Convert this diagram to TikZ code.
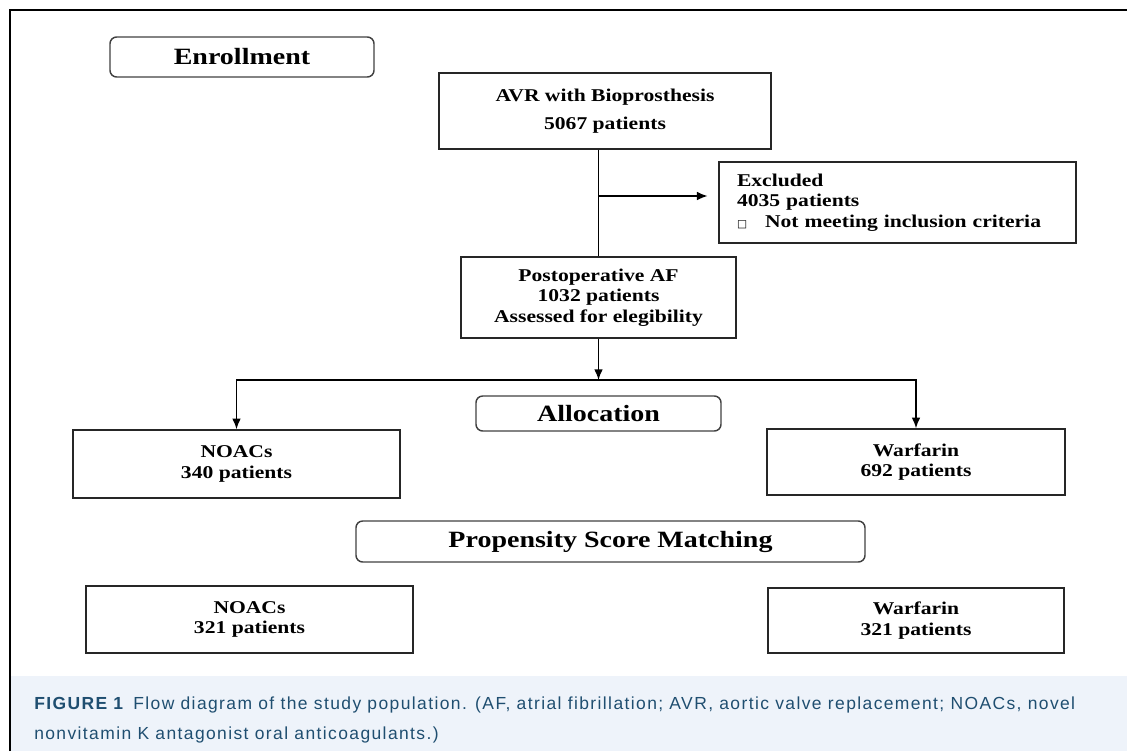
\documentclass[tikz,border=0pt]{standalone}
\usepackage{fontspec}
\usetikzlibrary{arrows.meta}
\newfontfamily\boxfont{Liberation Serif}[FakeStretch=1.2]
\newfontfamily\capfont{Liberation Sans}[LetterSpace=8]
\newfontfamily\symfont{DejaVu Sans}
\definecolor{capblue}{HTML}{1F4E70}
\definecolor{capback}{HTML}{EEF3FA}

\begin{document}
\begin{tikzpicture}[x=0.75pt, y=-0.75pt,
	box/.style={draw=black!85, line width=1.1pt, inner sep=0pt, align=center,
		font=\boxfont\bfseries\fontsize{13.5}{15.4}\selectfont},
	stage/.style={box, rounded corners=5pt, draw=black!75,
		font=\boxfont\bfseries\fontsize{17.5}{20}\selectfont},
	arr/.style={-{Latex[length=8pt,width=6.5pt]}, line width=1.1pt}]
			\useasboundingbox (0,0) rectangle (1127,751);
			\fill[capback] (10,676) rectangle (1127,751);
			\draw[line width=1.5pt] (10,751)--(10,10)--(1127,10);
			% stages
			\node[stage, minimum width=198pt, minimum height=30pt] (enroll) at (242,57) {Enrollment};
			\node[stage, minimum width=183.75pt, minimum height=26.25pt] (allocation) at (598.5,413.5) {Allocation};
			\node[stage, minimum width=381.75pt, minimum height=30.75pt] (psm) at (610.5,541.5) {Propensity Score Matching};
			% boxes
			\node[box, minimum width=249pt, minimum height=57pt] (avr) at (605,111) {AVR with Bioprosthesis\\[6pt]5067 patients};
			\node[box, text width=240.75pt, inner xsep=13.5pt, minimum height=60.75pt, align=left] (excl) at (897.5,202.5)
				{Excluded\\4035 patients\\{\symfont\fontsize{8}{8}\selectfont □}\quad Not meeting inclusion criteria};
			\node[box, minimum width=206.25pt, minimum height=60.75pt] (postop) at (598.5,297.5) {Postoperative AF\\1032 patients\\Assessed for elegibility};
			\node[box, minimum width=245.25pt, minimum height=51pt] (noacs) at (236.5,464) {NOACs\\340 patients};
			\node[box, minimum width=223.5pt, minimum height=49.5pt] (warf) at (916,462) {Warfarin\\692 patients};
			\node[box, minimum width=245.25pt, minimum height=50.25pt] (noacsm) at (249.5,619.5) {NOACs\\321 patients};
			\node[box, minimum width=222pt, minimum height=48.75pt] (warfm) at (916,620.5) {Warfarin\\321 patients};
			% connectors
			\coordinate (split) at (598.5,196);
			\coordinate (fork) at (598.5,380);
			\draw[line width=1.1pt] (avr.south -| postop.north)--(postop.north);
			\draw[arr, shorten >=8pt] (split)--(split -| excl.west);
			\draw[arr] (postop.south)--(fork);
			\draw[arr] (fork) -| (noacs.north);
			\draw[arr] (fork) -| (warf.north);
			% caption
			\node[anchor=base west, align=left, inner sep=0pt, text=capblue,
				font=\capfont\fontsize{13.1}{22.5}\selectfont] (caption) at (34,739)
				{\textbf{FIGURE 1}\enspace Flow diagram of the study population. (AF, atrial fibrillation; AVR, aortic valve replacement; NOACs, novel\\
				nonvitamin K antagonist oral anticoagulants.)};
		\end{tikzpicture}
\end{document}
